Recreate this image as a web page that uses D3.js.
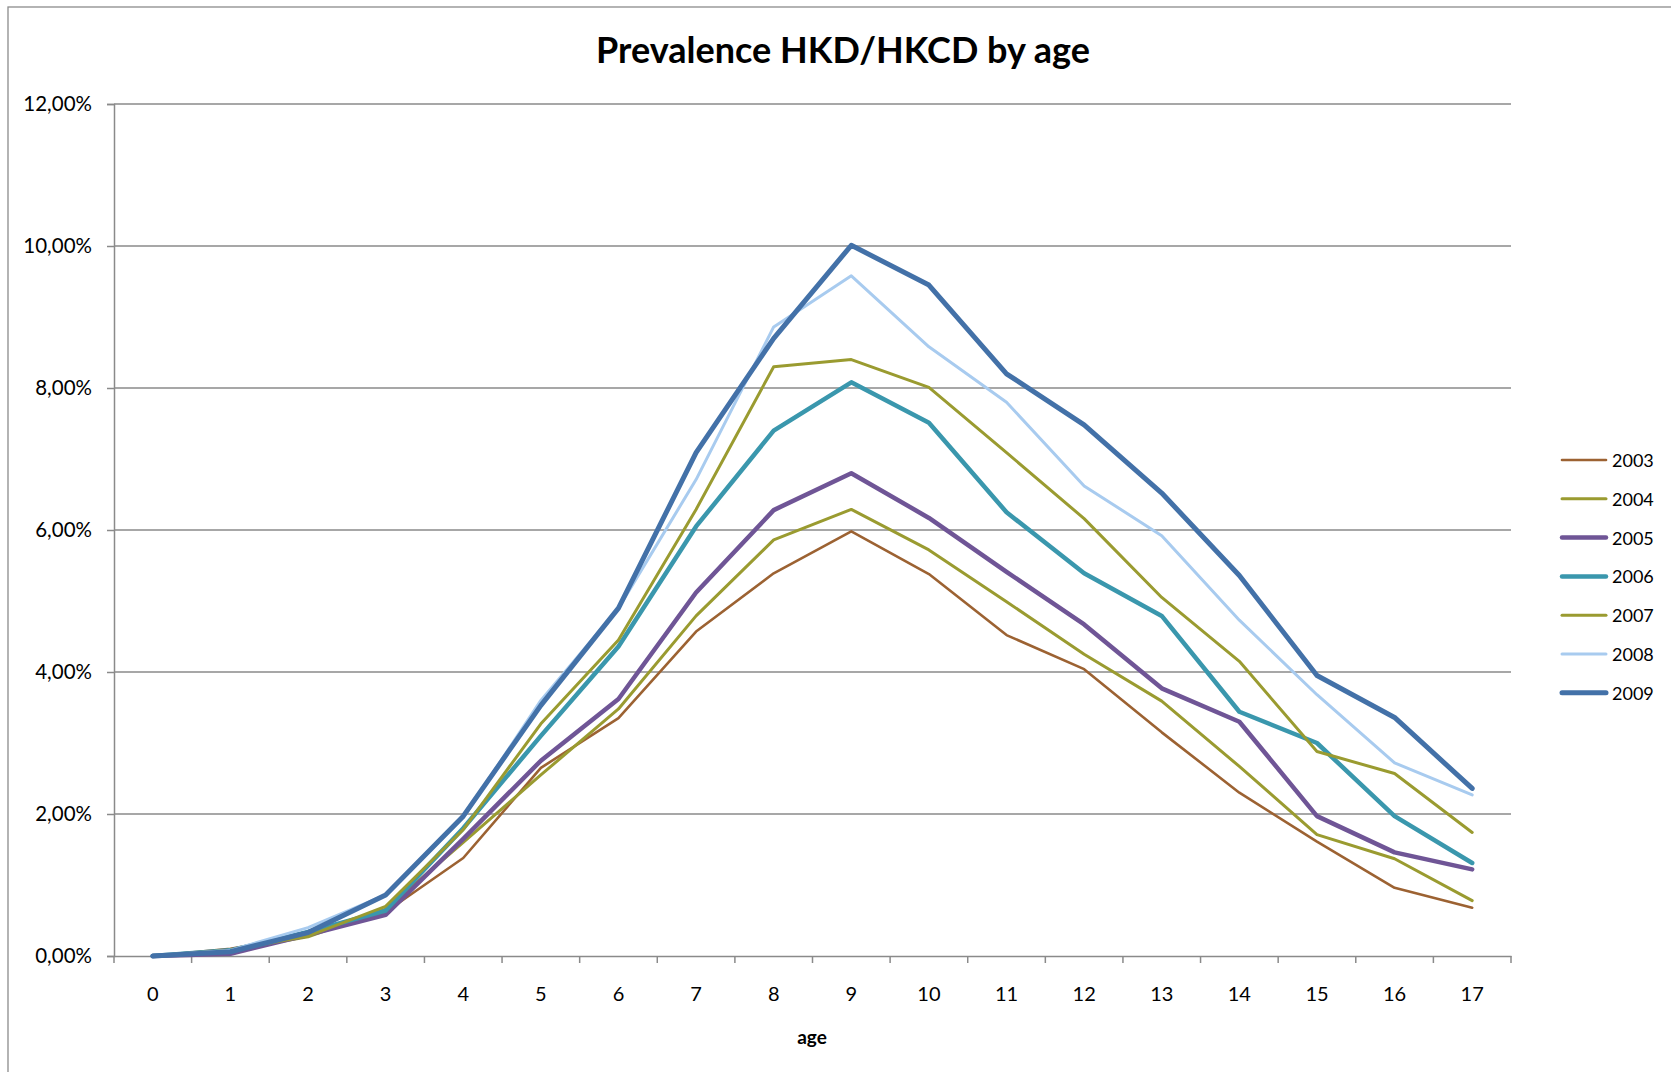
<!DOCTYPE html>
<html>
<head>
<meta charset="utf-8">
<script src="https://cdn.jsdelivr.net/npm/d3@7/dist/d3.min.js"></script>
<style>
  html, body { margin: 0; padding: 0; background: #fff; }
  svg { display: block; }
  text { font-family: Lato, "Open Sans", sans-serif; fill: #000; }
</style>
</head>
<body>
<svg id="chart" width="1671" height="1072"></svg>
<script>
const ages = [0,1,2,3,4,5,6,7,8,9,10,11,12,13,14,15,16,17];
const years = ["2003","2004","2005","2006","2007","2008","2009"];
const yTicks = [0, 0.02, 0.04, 0.06, 0.08, 0.10, 0.12];

const v2003 = [0.0, 0.10, 0.30, 0.62, 1.38, 2.65, 3.35, 4.57, 5.39, 5.98, 5.38, 4.52, 4.04, 3.15, 2.30, 1.61, 0.96, 0.68];
const v2004 = [0.0, 0.08, 0.27, 0.66, 1.60, 2.55, 3.48, 4.79, 5.86, 6.29, 5.72, 4.99, 4.25, 3.59, 2.67, 1.71, 1.37, 0.78];
const v2005 = [0.0, 0.03, 0.30, 0.58, 1.65, 2.75, 3.62, 5.12, 6.28, 6.80, 6.17, 5.41, 4.67, 3.77, 3.30, 1.97, 1.46, 1.22];
const v2006 = [0.0, 0.08, 0.34, 0.64, 1.80, 3.10, 4.36, 6.05, 7.40, 8.08, 7.51, 6.25, 5.39, 4.79, 3.44, 3.00, 1.97, 1.31];
const v2007 = [0.0, 0.08, 0.28, 0.70, 1.78, 3.27, 4.45, 6.29, 8.30, 8.40, 8.01, 7.09, 6.16, 5.05, 4.15, 2.88, 2.57, 1.74];
const v2008 = [0.0, 0.08, 0.40, 0.86, 1.95, 3.60, 4.90, 6.71, 8.86, 9.58, 8.58, 7.80, 6.62, 5.92, 4.73, 3.68, 2.72, 2.27];
const v2009 = [0.0, 0.06, 0.33, 0.86, 1.97, 3.53, 4.90, 7.09, 8.70, 10.01, 9.45, 8.20, 7.48, 6.52, 5.36, 3.95, 3.36, 2.36];

const seriesValues = [v2003, v2004, v2005, v2006, v2007, v2008, v2009];
const colors = ["#9c6232", "#9a9b30", "#6f5596", "#3a97ad", "#9a9b30", "#a8cbef", "#4371a8"];
const widths = [2.6, 3, 4.5, 4.5, 3, 3, 5];

const svg = d3.select("#chart");
const W = 1671, H = 1072;
const plotLeft = 114, plotRight = 1511, plotTop = 104, plotBottom = 956;

// outer border
svg.append("rect").attr("x", 8).attr("y", 7).attr("width", W + 10).attr("height", H + 10)
  .attr("fill", "none").attr("stroke", "#8c8c8c").attr("stroke-width", 1.3);

const x = d3.scaleBand().domain(ages).range([plotLeft, plotRight]).paddingInner(0).paddingOuter(0);
const y = d3.scaleLinear().domain([0, 0.12]).range([plotBottom, plotTop]);

// gridlines
svg.append("g").selectAll("line").data(yTicks.filter(d => d > 0)).join("line")
  .attr("x1", plotLeft).attr("x2", plotRight)
  .attr("y1", d => y(d)).attr("y2", d => y(d))
  .attr("stroke", "#8a8a8a").attr("stroke-width", 1.5);

// y axis
const fmt = d => (d * 100).toFixed(2).replace(".", ",") + "%";
const yAxis = d3.axisLeft(y).tickValues(yTicks).tickFormat(fmt).tickSize(7).tickPadding(15);
const gy = svg.append("g").attr("transform", `translate(${plotLeft},0)`).call(yAxis);
gy.select(".domain").attr("stroke", "#8a8a8a").attr("stroke-width", 1.5);
gy.selectAll(".tick line").attr("stroke", "#8a8a8a").attr("stroke-width", 1.5);
gy.selectAll(".tick text").style("font-size", "20.5px").style("font-family", "Lato, sans-serif").attr("fill", "#000");

// x axis
const xAxis = d3.axisBottom(x).tickSize(0).tickPadding(31);
const gx = svg.append("g").attr("transform", `translate(0,${plotBottom})`).call(xAxis);
gx.select(".domain").attr("stroke", "#8a8a8a").attr("stroke-width", 1.5);
gx.selectAll(".tick text").style("font-size", "20px").style("font-family", "Lato, sans-serif").attr("fill", "#000");
// category boundary ticks
const bounds = ages.map(a => x(a)).concat([x(ages[ages.length - 1]) + x.bandwidth()]);
svg.append("g").selectAll("line").data(bounds).join("line")
  .attr("x1", d => d).attr("x2", d => d)
  .attr("y1", plotBottom).attr("y2", plotBottom + 7)
  .attr("stroke", "#8a8a8a").attr("stroke-width", 1.5);

// lines
const line = d3.line()
  .x((d, i) => x(ages[i]) + x.bandwidth() / 2)
  .y(d => y(d / 100));

seriesValues.forEach((vals, i) => {
  svg.append("path").datum(vals)
    .attr("d", line)
    .attr("fill", "none")
    .attr("stroke", colors[i])
    .attr("stroke-width", widths[i])
    .attr("stroke-linejoin", "round")
    .attr("stroke-linecap", "round");
});

// title
svg.append("text").attr("x", 843).attr("y", 63).attr("text-anchor", "middle")
  .style("font-size", "36px").style("font-weight", "bold").style("font-family", "Lato, sans-serif")
  .text("Prevalence HKD/HKCD  by age");

// x axis title
svg.append("text").attr("x", 812).attr("y", 1044).attr("text-anchor", "middle")
  .style("font-size", "19px").style("font-weight", "bold").style("font-family", "Lato, sans-serif")
  .text("age");

// legend
const legend = svg.append("g");
years.forEach((yr, i) => {
  const ly = 460 + i * 38.8;
  legend.append("line").attr("x1", 1562).attr("x2", 1606).attr("y1", ly).attr("y2", ly)
    .attr("stroke", colors[i]).attr("stroke-width", widths[i]).attr("stroke-linecap", "round");
  legend.append("text").attr("x", 1612).attr("y", ly + 7)
    .style("font-size", "18px").style("font-family", "Lato, sans-serif")
    .text(yr);
});
</script>
</body>
</html>
